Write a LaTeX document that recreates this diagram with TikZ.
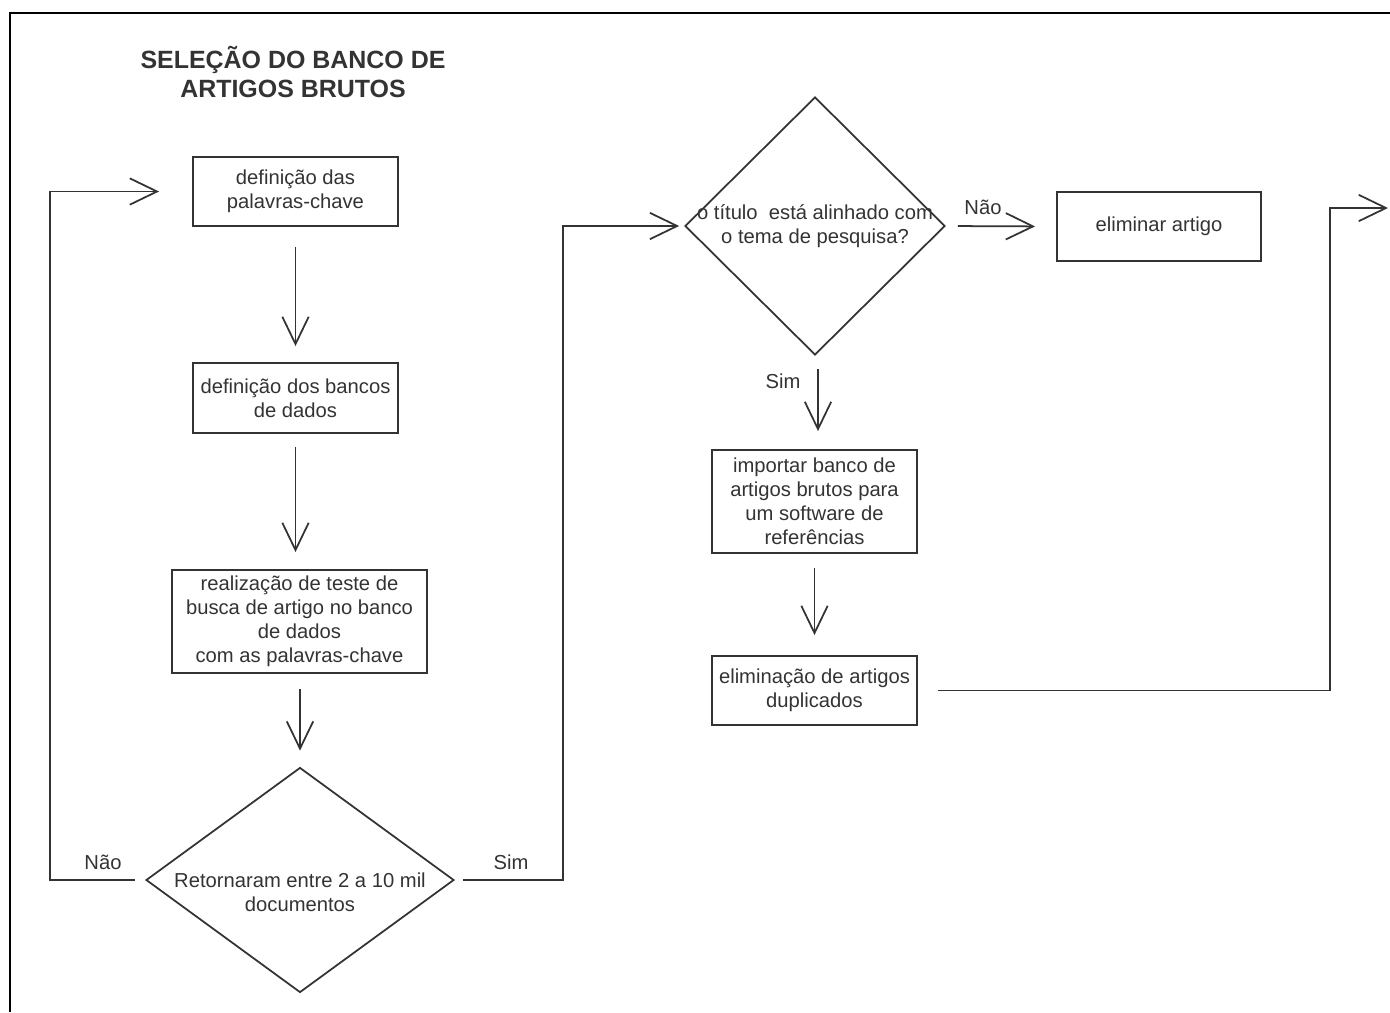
\documentclass[tikz,border=0pt]{standalone}
\usepackage{fontspec}
\setmainfont{Liberation Sans}
\usetikzlibrary{shapes.geometric,arrows.meta}
\definecolor{ink}{HTML}{333333}
\newcommand\bodyfs{\fontsize{11.5}{13.6}\selectfont}
\newcommand\titlefs{\fontsize{14.2}{17}\selectfont\bfseries}
\begin{document}
\begin{tikzpicture}[x=0.02cm,y=-0.02cm,
  box/.style={draw=ink, line width=1.1pt, rectangle, inner sep=0pt, align=center, font=\bodyfs, text=ink},
  dia/.style={draw=ink, line width=1pt, diamond, inner sep=0pt},
  txt/.style={align=center, font=\bodyfs, text=ink, inner sep=0pt},
  conn/.style={draw=ink, line width=1pt, -{Straight Barb[length=15.5pt,width=15pt]}},
  plain/.style={draw=ink, line width=1pt}]
\useasboundingbox (0,0) rectangle (1390,1012);
\draw[line width=1.2pt] (10,1012) -- (10,13) -- (1390,13);

\node[txt, font=\titlefs, text=ink] (title) at (293,72) {SELEÇÃO DO BANCO DE\\ARTIGOS BRUTOS};

\node[box, minimum width=4.1cm, minimum height=1.38cm] (b1) at (295.5,191.5) {definição das\\palavras-chave};
\node[box, minimum width=4.1cm, minimum height=1.4cm] (b2) at (295.5,398) {definição dos bancos\\de dados};
\node[box, minimum width=5.1cm, minimum height=2.06cm] (b3) at (299.5,621.5) {realização de teste de\\busca de artigo no banco\\de dados\\com as palavras-chave};
\node[dia, minimum width=6.16cm, minimum height=4.5cm] (d1) at (300,880) {};
\node[txt] (d1t) at (300,892) {Retornaram entre 2 a 10 mil\\documentos};

\node[dia, minimum width=5.2cm, minimum height=5.16cm] (d2) at (815,226) {};
\node[txt] (d2t) at (815,226) {o título \ está alinhado com\\o tema de pesquisa?};
\node[box, minimum width=4.08cm, minimum height=1.38cm] (elim) at (1159,226.5) {eliminar artigo};
\node[box, minimum width=4.1cm, minimum height=2.06cm] (imp) at (814.5,501.5) {importar banco de\\artigos brutos para\\um software de\\referências};
\node[box, minimum width=4.1cm, minimum height=1.38cm] (dup) at (814.5,690.5) {eliminação de artigos\\duplicados};
\coordinate (out) at (1388,208);

\draw[conn, shorten <=0.4cm, shorten >=0.32cm] (b1.south) -- (b2.north);
\draw[conn, shorten <=0.26cm, shorten >=0.34cm] (b2.south) -- (b2.south |- b3.north);
\draw[conn, shorten <=0.3cm, shorten >=0.32cm] (b3.south -| d1.north) -- (d1.north);

\draw[conn, shorten <=0.2cm, shorten >=0.66cm] (d1.west) -- ++(-95,0) |- (b1.west);
\node[txt] (lnao1) at (103,862) {Não};
\draw[conn, shorten <=0.16cm, shorten >=0.1cm] (d1.east) -- ++(108,0) |- (d2.west);
\node[txt] (lsim1) at (511,862) {Sim};

\draw[conn, shorten <=0.24cm, shorten >=0.42cm] (d2.east) -- (elim.west);
\node[txt] (lnao2) at (983,207) {Não};
\draw[conn, shorten <=0.26cm, shorten >=0.36cm] ([xshift=0.06cm]d2.south) -- ([xshift=0.06cm]d2.south |- imp.north);
\node[txt] (lsim2) at (783,381) {Sim};
\draw[conn, shorten <=0.28cm, shorten >=0.4cm] (imp.south) -- (dup.north);
\draw[conn, shorten <=0.4cm] (dup.east) -- ++(412,0) |- (out);
\end{tikzpicture}
\end{document}
